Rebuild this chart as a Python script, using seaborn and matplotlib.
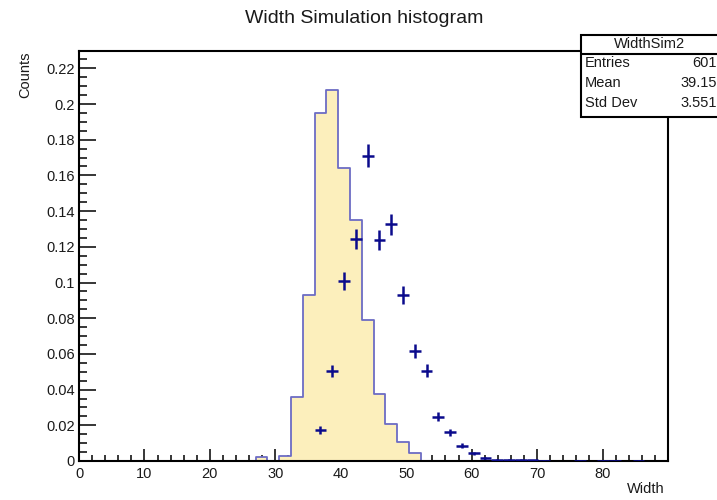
import numpy as np
import pandas as pd
import matplotlib
matplotlib.use("Agg")
import matplotlib.pyplot as plt
from matplotlib.patches import Rectangle
from matplotlib.lines import Line2D
from matplotlib.ticker import MultipleLocator, FuncFormatter
import seaborn as sns

# ---------------- data ----------------
x_range = (0.0, 90.0)
n_bins = 50

hist_centers = [27.9, 31.5, 33.3, 35.1, 36.9, 38.7, 40.5, 42.3, 44.1, 45.9, 47.7, 49.5, 51.3]
hist_values = [0.002, 0.003, 0.036, 0.093, 0.195, 0.208, 0.164, 0.135, 0.079, 0.0375, 0.0207, 0.0105, 0.0047]

point_centers = [36.9, 38.7, 40.5, 42.3, 44.1, 45.9, 47.7, 49.5, 51.3, 53.1, 54.9, 56.7,
                 58.5, 60.3, 62.1, 63.9, 65.7, 67.5, 69.3, 71.1, 76.5, 80.1, 81.9, 85.5]
point_values = [0.0174, 0.0504, 0.1008, 0.1244, 0.171, 0.124, 0.1326, 0.093, 0.0614, 0.0506, 0.0248, 0.0162,
                0.0086, 0.0043, 0.0015, 0.0008, 0.0008, 0.0008, 0.0003, 0.0002, 0.0002, 0.0002, 0.0002, 0.0002]
point_errors = [0.0021, 0.0035, 0.0050, 0.0056, 0.0065, 0.0056, 0.0058, 0.0048, 0.0039, 0.0036, 0.0025, 0.0020,
                0.0015, 0.0010, 0.0006, 0.0004, 0.0004, 0.0004, 0.0003, 0.0002, 0.0002, 0.0002, 0.0002, 0.0002]

title_text = "Width Simulation histogram"
x_label = "Width"
y_label = "Counts"
stats_title = "WidthSim2"
stats_labels = ["Entries", "Mean", "Std Dev"]
stats_values = ["601", "39.15", "3.551"]

# ---------------- style ----------------
sns.set_style("ticks")
plt.rcParams['font.family'] = ['Liberation Sans', 'DejaVu Sans']
plt.rcParams['text.color'] = '#1a1a1a'

W, H = 717, 500
fig = plt.figure(figsize=(W / 100, H / 100), dpi=100)
fig.patch.set_facecolor('white')

def fx(px):
    return px / W

def fy(py):
    return 1 - py / H

ax = fig.add_axes([fx(79), fy(461), fx(668) - fx(79), fy(51) - fy(461)])
ax.set_facecolor('white')

edges = [float(e) for e in np.linspace(x_range[0], x_range[1], n_bins + 1)]
hist_df = pd.DataFrame({"x": hist_centers, "w": hist_values})
sns.histplot(data=hist_df, x="x", weights="w", bins=edges, element="step", fill=True,
             color="#FCEFBC", alpha=1.0, edgecolor="#6C6CC4", linewidth=1.3, ax=ax, zorder=2)

bin_w = (x_range[1] - x_range[0]) / n_bins
ax.errorbar(point_centers, point_values, yerr=point_errors, xerr=bin_w / 2,
            fmt='none', ecolor='#0A0A8C', elinewidth=1.8, capsize=0, zorder=3)

ax.set_xlim(*x_range)
ax.set_ylim(0, 0.2297)
ax.set_xlabel("")
ax.set_ylabel("")

ax.xaxis.set_major_locator(MultipleLocator(10))
ax.xaxis.set_minor_locator(MultipleLocator(2))
ax.yaxis.set_major_locator(MultipleLocator(0.02))
ax.yaxis.set_minor_locator(MultipleLocator(0.005))
ax.xaxis.set_major_formatter(FuncFormatter(lambda v, p: f"{v:g}" if v < 85 else ""))
ax.yaxis.set_major_formatter(FuncFormatter(lambda v, p: f"{round(v, 4):g}"))

ax.tick_params(axis='both', which='both', direction='in', top=False, right=False,
               colors='black', labelcolor='#1a1a1a', labelsize=10.5, width=1.1)
ax.tick_params(axis='x', which='major', length=8.8, pad=4)
ax.tick_params(axis='x', which='minor', length=4.6)
ax.tick_params(axis='y', which='major', length=12, pad=3)
ax.tick_params(axis='y', which='minor', length=6)

for s in ax.spines.values():
    s.set_visible(True)
    s.set_color('black')
    s.set_linewidth(1.5)

# titles / labels
fig.text(fx(364.5), fy(23.3), title_text, ha='center', va='baseline', fontsize=14)
fig.text(fx(25), fy(52), y_label, rotation=90, ha='center', va='top', fontsize=10.5)
fig.text(fx(665), fy(489), x_label, ha='right', va='center', fontsize=10.5)

# stats box
box = Rectangle((fx(581), fy(117)), fx(745) - fx(581), fy(35) - fy(117),
                transform=fig.transFigure, facecolor='white', edgecolor='black',
                linewidth=1.5, zorder=5)
fig.add_artist(box)
fig.add_artist(Line2D([fx(581), fx(745)], [fy(54), fy(54)], transform=fig.transFigure,
                      color='black', linewidth=1.5, zorder=6))
fig.text(fx(650), fy(44), stats_title, ha='center', va='center', fontsize=10.5, zorder=7)
row_y = [63, 83, 103]
for lab, val, yy in zip(stats_labels, stats_values, row_y):
    fig.text(fx(585), fy(yy), lab, ha='left', va='center', fontsize=10.5, zorder=7)
    fig.text(fx(716.5), fy(yy), val, ha='right', va='center', fontsize=10.5, zorder=7)

fig.savefig("out.png", dpi=100)
